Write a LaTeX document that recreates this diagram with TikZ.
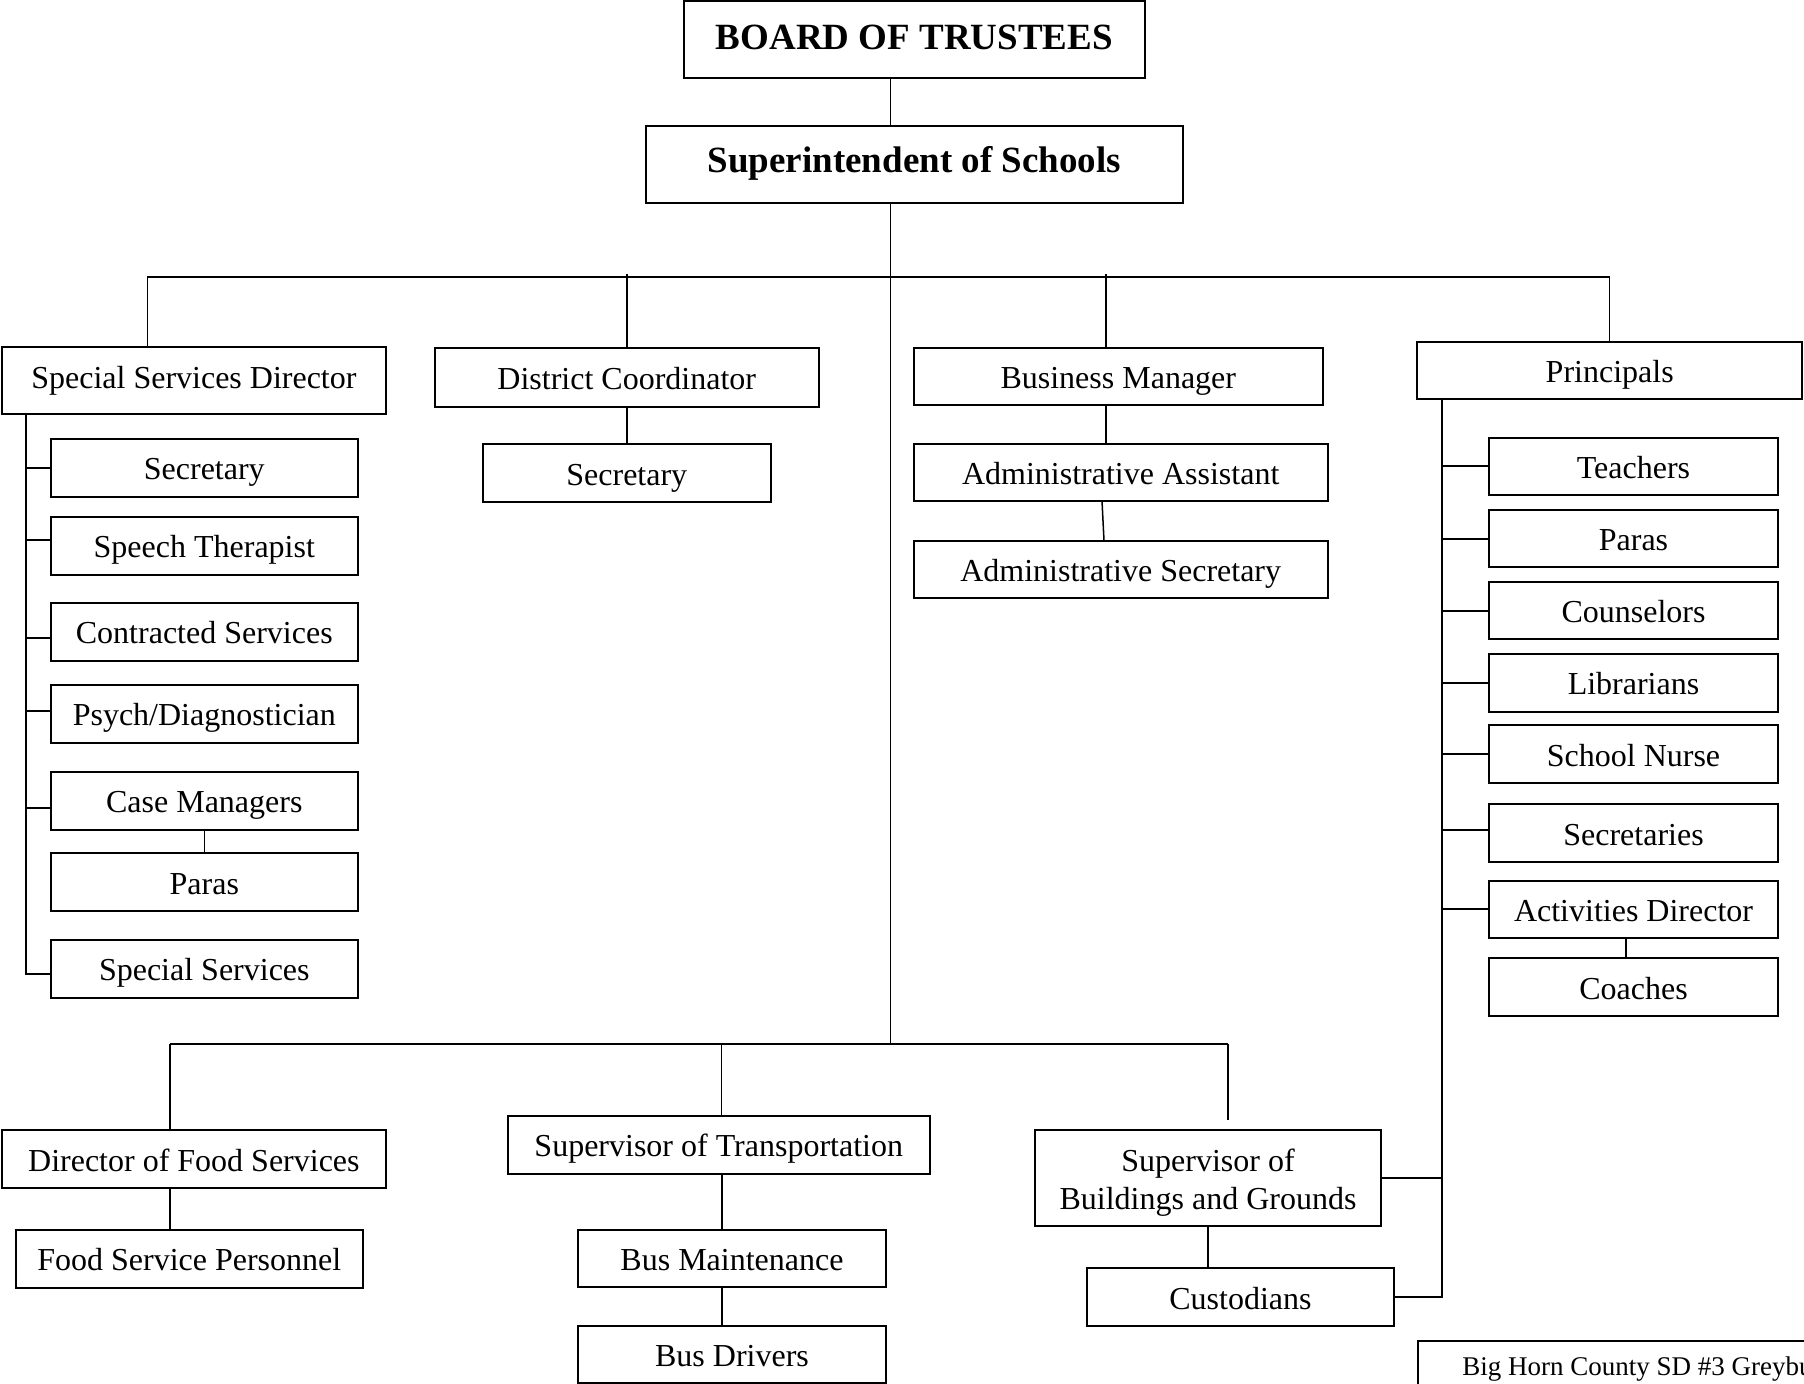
\documentclass[tikz,border=0pt]{standalone}
\usepackage{fontspec}
\setmainfont{Liberation Serif}
\usetikzlibrary{positioning}

\begin{document}
\begin{tikzpicture}[
    x=0.5pt, y=-0.5pt,
    every node/.style={font=\fontsize{16}{19}\selectfont},
    post/.style={
        draw, rectangle, line width=1pt,
        inner sep=0pt, outer sep=0pt,
        minimum width=153.5pt, minimum height=29pt, align=center,
        text height=12pt, text depth=0pt
    },
    chief/.style={
        post, font=\fontsize{18.5}{22}\selectfont\bfseries,
        minimum height=38.5pt
    },
    staff/.style={post, minimum width=144.5pt, minimum height=28.8pt},
    tie/.style={line width=0.75pt},
    branch/.style={line width=1pt},
    bar/.style={line width=1pt},
]
\useasboundingbox (0,0) rectangle (1804,1383);

% ── board and superintendent ──
\node[chief, minimum width=230.75pt, text height=12.5pt, text depth=2.3pt] (board) at (914.3,39.5) {BOARD OF TRUSTEES};
\node[chief, minimum width=268.7pt, text height=12.8pt, text depth=5.2pt] (super) at (914.3,164.5) {Superintendent of Schools};

% ── Special Services Director ──
\node[post, minimum width=191.85pt, minimum height=33.25pt, text height=10.9pt, text depth=3.5pt] (ssd) at (193.9,380.7) {Special Services Director};
\node[post] (ssdsec) at (204.3,467.5) {Secretary};
\node[post, below=10pt of ssdsec] (speech) {Speech Therapist};
\node[post, below=14.1pt of speech] (contract) {Contracted Services};
\node[post, below=12pt of contract] (psych) {Psych/Diagnostician};
\node[post, below=14.5pt of psych] (casemgr) {Case Managers};
\node[post, below=11.8pt of casemgr] (ssdparas) {Paras};
\node[post, below=14.25pt of ssdparas] (specserv) {Special Services};

% ── District Coordinator ──
\node[post, minimum width=192.2pt, minimum height=29.4pt] (dc) at (626.8,377.4) {District Coordinator};
\node[post, minimum width=144.1pt, below=18.6pt of dc] (dcsec) {Secretary};

% ── Business Manager ──
\node[post, minimum width=204.25pt, minimum height=28.5pt] (bm) at (1118.3,376.5) {Business Manager};
\node[post, minimum width=207.1pt, minimum height=28.6pt] (assist) at (1120.7,472.4) {Administrative Assistant};
\node[post, minimum width=207.1pt, minimum height=28.6pt, below=19.85pt of assist] (adsec) {Administrative Secretary};

% ── Principals ──
\node[post, minimum width=192.3pt, minimum height=28.5pt] (principals) at (1609.7,370.5) {Principals};
\node[staff] (teachers) at (1633.5,466.4) {Teachers};
\node[staff, below=7.3pt of teachers] (pparas) {Paras};
\node[staff, below=7.2pt of pparas] (counsel) {Counselors};
\node[staff, below=7.3pt of counsel] (library) {Librarians};
\node[staff, below=6.9pt of library] (nurse) {School Nurse};
\node[staff, below=10.7pt of nurse] (secretaries) {Secretaries};
\node[staff, below=9.3pt of secretaries] (activities) {Activities Director};
\node[staff, below=10pt of activities] (coaches) {Coaches};

% ── food services ──
\node[post, minimum width=191.6pt] (food) at (193.9,1159) {Director of Food Services};
\node[post, minimum width=173.25pt] (foodstaff) at (189.3,1258.7) {Food Service Personnel};

% ── transportation ──
\node[post, minimum width=211.25pt] (transport) at (718.75,1144.7) {Supervisor of Transportation};
\node[post, minimum width=154pt, minimum height=28.5pt] (busfix) at (732,1258.5) {Bus Maintenance};
\node[post, minimum width=154pt, minimum height=28.5pt, below=19.5pt of busfix] (busdrive) {Bus Drivers};

% ── buildings and grounds ──
\node[post, minimum width=173pt, minimum height=48pt, text height={}, text depth={}] (grounds) at (1208,1178) {\rule{0pt}{16pt}Supervisor of\\Buildings and Grounds};
\node[post] (custod) at (1240.5,1297) {Custodians};

% ── footer ──
\node[post, anchor=north west, minimum width=240pt, minimum height=40pt] (footer) at (1418,1341) {};
\node[anchor=base west, inner sep=0pt, font=\fontsize{13.5}{16}\selectfont] (footnote) at (1462,1375) {Big Horn County SD \#3 Greybu};

% ── Relationships ──
\coordinate (trunk) at ([xshift=-11.85pt]super.south);
\path (trunk) ++(0,74) coordinate (toprow);
\path (trunk) ++(0,841) coordinate (botrow);
\draw[tie] (board.south -| trunk) -- (super.north -| trunk);
\draw[tie] (trunk) -- (botrow);

% upper row
\coordinate (ssdin) at ([xshift=-23.3pt]ssd.north);
\coordinate (bmhead) at ([xshift=-6.15pt]bm.north);
\draw[bar] (ssdin |- toprow) -- (principals.north |- toprow);
\draw[tie] (ssdin) -- (ssdin |- toprow);
\draw[tie] (dc.north) -- (dc.north |- toprow) -- ++(0,-3);
\draw[tie] (bmhead) -- (bmhead |- toprow) -- ++(0,-3);
\draw[tie] (principals.north) -- (principals.north |- toprow);

% special services branch
\coordinate (ssdspine) at ([xshift=-84.05pt]ssd.south);
\coordinate (t) at ([yshift=-2.6pt]specserv.west);
\draw[branch] (ssdspine) |- (t);
\foreach \n/\s in {ssdsec/0, speech/2.6, contract/-2.9, psych/1.5, casemgr/-3.5} {
    \coordinate (t) at ([yshift=\s pt]\n.west);
    \draw[branch] (ssdspine |- t) -- (t);
}
\draw[tie] (casemgr.south) -- (ssdparas.north);

% coordinator and business branches
\draw[tie] (dc.south) -- (dcsec.north);
\coordinate (bmfoot) at ([xshift=-6.15pt]bm.south);
\draw[tie] (bmfoot) -- (bmfoot |- assist.north);
\draw[tie] ([xshift=-9.35pt]assist.south) -- ([xshift=-8.35pt]adsec.north);

% principals branch
\coordinate (pspine) at ([xshift=-83.85pt]principals.south);
\draw[branch] (pspine) |- (custod.east);
\foreach \n/\s in {teachers/0, pparas/0, counsel/0, library/0, nurse/0, secretaries/1.5, activities/0} {
    \coordinate (t) at ([yshift=\s pt]\n.west);
    \draw[branch] (pspine |- t) -- (t);
}
\draw[tie] ([xshift=-3.75pt]activities.south) -- ([xshift=-3.75pt]coaches.north);
\draw[branch] (grounds.east) -- (grounds.east -| pspine);

% lower row
\coordinate (foodin) at ([xshift=-11.95pt]food.north);
\coordinate (foodout) at ([xshift=-11.95pt]food.south);
\coordinate (transin) at ([xshift=1.4pt]transport.north);
\coordinate (transout) at ([xshift=1.6pt]transport.south);
\coordinate (groundsin) at ([xshift=10pt,yshift=5pt]grounds.north);
\draw[bar] (foodin |- botrow) -- (groundsin |- botrow);
\draw[tie] (foodin |- botrow) -- (foodin);
\draw[tie] (foodout) -- (foodout |- foodstaff.north);
\draw[tie] (transin) -- (transin |- botrow) -- ++(0,-1.5);
\draw[tie] (transout) -- (transout |- busfix.north);
\draw[tie] (transout |- busfix.south) -- (transout |- busdrive.north);
\draw[tie] (groundsin |- botrow) -- (groundsin);
\draw[tie] (grounds.south) -- (grounds.south |- custod.north);

\end{tikzpicture}
\end{document}
